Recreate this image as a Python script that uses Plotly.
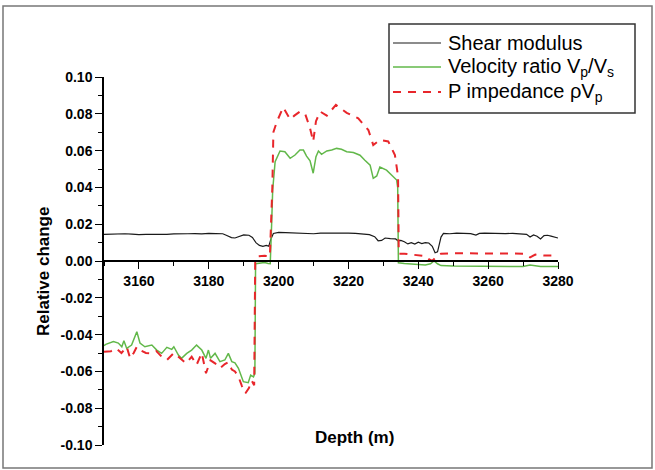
import plotly.graph_objects as go

# ---------------- data ----------------
shear_depth = [3150, 3152, 3154, 3156, 3158, 3160, 3162, 3164, 3166, 3168, 3170, 3172, 3174, 3176,
               3178, 3180, 3182, 3184, 3185, 3186.5, 3187.5, 3188.5, 3190, 3191.5, 3192.5, 3193.5,
               3194.5, 3195.5, 3196.5, 3197.2, 3197.8, 3198.5, 3200, 3202, 3204, 3206, 3208, 3210,
               3212, 3214, 3216, 3218, 3220, 3222, 3224, 3226, 3227.5, 3228.5, 3229.5, 3230.5, 3232,
               3233.5, 3234.2, 3235, 3236, 3237, 3238, 3239, 3240, 3241, 3242, 3243, 3244, 3244.8,
               3245.5, 3246.5, 3247.2, 3249, 3251, 3253, 3255, 3256.5, 3257.5, 3259, 3261, 3263,
               3265, 3267, 3269, 3271, 3272, 3273, 3274, 3275, 3276, 3277, 3278, 3279, 3280]
shear_modulus = [0.0145, 0.0147, 0.0145, 0.0148, 0.0146, 0.0143, 0.0145, 0.0144, 0.0146, 0.0145,
                 0.0147, 0.0146, 0.0148, 0.0149, 0.0147, 0.0150, 0.0149, 0.0148, 0.0140, 0.0127,
                 0.0125, 0.0132, 0.0142, 0.0140, 0.0128, 0.0100, 0.0085, 0.0080, 0.0085, 0.0080,
                 0.0120, 0.0150, 0.0156, 0.0154, 0.0152, 0.0153, 0.0151, 0.0148, 0.0152, 0.0153,
                 0.0153, 0.0152, 0.0152, 0.0150, 0.0148, 0.0143, 0.0132, 0.0110, 0.0112, 0.0125,
                 0.0122, 0.0120, 0.0110, 0.0112, 0.0105, 0.0093, 0.0100, 0.0092, 0.0102, 0.0095,
                 0.0100, 0.0098, 0.0080, 0.0045, 0.0050, 0.0130, 0.0150, 0.0148, 0.0152, 0.0150,
                 0.0149, 0.0141, 0.0150, 0.0152, 0.0150, 0.0152, 0.0149, 0.0150, 0.0148, 0.0145,
                 0.0130, 0.0142, 0.0135, 0.0120, 0.0138, 0.0140, 0.0135, 0.0130, 0.0125]

vel_depth = [3150, 3150.5, 3152.7, 3154.1, 3155.1, 3155.7, 3156.5, 3157.9, 3159.4, 3160.3, 3161.7,
             3163.7, 3165.1, 3166.5, 3168, 3169.4, 3170, 3171.3, 3172.2, 3173.7, 3175.1, 3176.5,
             3178, 3179.2, 3179.9, 3180.5, 3181.8, 3183.2, 3184.6, 3185.6, 3186.6, 3187.5, 3188.5,
             3189.9, 3191.3, 3192.0, 3192.8, 3193.2, 3193.4, 3195, 3196, 3197, 3197.6, 3198.0,
             3198.3, 3199.0, 3200.4, 3201.8, 3203.3, 3204.7, 3206.1, 3207.1, 3208, 3209, 3209.9,
             3210.7, 3211.4, 3212.3, 3213.8, 3215.2, 3216.6, 3218, 3219.5, 3221.4, 3223.3, 3224.7,
             3226.2, 3227.1, 3228.1, 3229, 3230, 3230.9, 3232.4, 3233.8, 3234.1, 3234.3, 3236,
             3238, 3240, 3242, 3243.5, 3244.5, 3245.5, 3246.5, 3250, 3255, 3260, 3265, 3270,
             3272, 3273.5, 3275, 3280]
velocity_ratio = [-0.0460, -0.0453, -0.0438, -0.0446, -0.0466, -0.0433, -0.0475, -0.0457, -0.0384,
                  -0.0446, -0.0466, -0.0457, -0.0484, -0.0502, -0.0469, -0.0480, -0.0466, -0.0511,
                  -0.0529, -0.0502, -0.0484, -0.0457, -0.0484, -0.0529, -0.0484, -0.0529, -0.0502,
                  -0.0547, -0.0538, -0.0502, -0.0547, -0.0553, -0.0583, -0.0656, -0.0661, -0.0620,
                  -0.0630, -0.0610, -0.0015, -0.0012, -0.0008, -0.0014, -0.0015, 0.0200, 0.0386,
                  0.0540, 0.0598, 0.0594, 0.0558, 0.0576, 0.0603, 0.0603, 0.0570, 0.0544, 0.0477,
                  0.0567, 0.0598, 0.0580, 0.0598, 0.0603, 0.0612, 0.0607, 0.0594, 0.0590, 0.0575,
                  0.0548, 0.0521, 0.0449, 0.0462, 0.0511, 0.0502, 0.0494, 0.0466, 0.0440, 0.0400,
                  -0.0010, -0.0014, -0.0016, -0.0020, -0.0022, -0.0015, 0.0000, -0.0015, -0.0025,
                  -0.0027, -0.0028, -0.0028, -0.0029, -0.0030, -0.0022, -0.0026, -0.0030, -0.0030]

imp_depth = [3150, 3152, 3153.5, 3155, 3156.5, 3157.5, 3158.5, 3159.4, 3160.3, 3162, 3163.7, 3165,
             3166.5, 3168, 3170, 3172, 3173.5, 3175.1, 3176.5, 3178, 3179.2, 3180.5, 3181.8, 3183.2,
             3184.6, 3185.6, 3186.6, 3187.5, 3188.5, 3189.5, 3190.5, 3191.5, 3192.3, 3193.0, 3193.3,
             3194, 3196, 3197.5, 3198.2, 3198.5, 3199.5, 3201.3, 3203.3, 3204.5, 3206.1, 3207.6,
             3209, 3209.9, 3210.7, 3211.9, 3213.8, 3216.4, 3219.5, 3222.8, 3225.7, 3227.1, 3229,
             3231.4, 3233.3, 3234.2, 3234.4, 3236, 3238, 3240, 3242, 3243, 3244, 3245, 3246.5,
             3250, 3255, 3260, 3265, 3270, 3272, 3273.5, 3276, 3280]
p_impedance = [-0.0493, -0.0490, -0.0475, -0.0500, -0.0466, -0.0529, -0.0500, -0.0466, -0.0484,
               -0.0500, -0.0502, -0.0490, -0.0520, -0.0538, -0.0500, -0.0530, -0.0556, -0.0520,
               -0.0565, -0.0500, -0.0610, -0.0540, -0.0556, -0.0583, -0.0560, -0.0550, -0.0590,
               -0.0600, -0.0629, -0.0680, -0.0719, -0.0690, -0.0650, -0.0675, 0.0000, 0.0025,
               0.0028, 0.0025, 0.0400, 0.0700, 0.0757, 0.0835, 0.0770, 0.0790, 0.0812, 0.0800,
               0.0721, 0.0649, 0.0760, 0.0812, 0.0790, 0.0848, 0.0805, 0.0775, 0.0712, 0.0630,
               0.0658, 0.0650, 0.0576, 0.0460, 0.0040, 0.0040, 0.0035, 0.0028, 0.0026, 0.0010,
               0.0000, 0.0020, 0.0040, 0.0042, 0.0042, 0.0041, 0.0040, 0.0040, 0.0020, 0.0035,
               0.0030, 0.0030]

y_tick_vals = [-0.10, -0.08, -0.06, -0.04, -0.02, 0.00, 0.02, 0.04, 0.06, 0.08, 0.10]
y_tick_text = ["-0.10", "-0.08", "-0.06", "-0.04", "-0.02", "0.00", "0.02", "0.04", "0.06", "0.08", "0.10"]
x_tick_vals = [3160, 3180, 3200, 3220, 3240, 3260, 3280]

names = ["Shear modulus", "Velocity ratio V<sub>p</sub>/V<sub>s</sub>", "P impedance \u03c1V<sub>p</sub>"]
colors = ["#1a1a1a", "#62b84a", "#e8262b"]
widths = [1.2, 1.5, 2]
dashes = ["solid", "solid", "8px,7px"]

# ---------------- layout geometry (pixels) ----------------
W, H = 655, 470
L, R, T, B = 104, 97, 77, 25
PW, PH = W - L - R, H - T - B


def px(x):
    return (x - L) / PW


def py(y):
    return (H - B - y) / PH


FONT = "Liberation Sans, Arial, sans-serif"

fig = go.Figure()
series = [(shear_depth, shear_modulus), (vel_depth, velocity_ratio), (imp_depth, p_impedance)]
for (xs, ys), nm, c, w, d in zip(series, names, colors, widths, dashes):
    fig.add_trace(go.Scatter(x=xs, y=ys, mode="lines", name=nm,
                             line=dict(color=c, width=w, dash=d)))

# legend drawn as a framed box (line samples + labels)
legend_rows = [43, 67, 92]
shapes = [
    dict(type="rect", xref="paper", yref="paper", x0=px(3), x1=px(652), y0=py(468), y1=py(6),
         line=dict(color="#777", width=1.5), fillcolor="rgba(0,0,0,0)", layer="below"),
    dict(type="rect", xref="paper", yref="paper", x0=px(389), x1=px(635), y0=py(113), y1=py(24),
         line=dict(color="#333", width=1.5), fillcolor="white", layer="above"),
]
annotations = [
    dict(text="Relative change", xref="paper", yref="paper", x=px(43), y=py(272),
         textangle=-90, showarrow=False, xanchor="center", yanchor="middle",
         font=dict(size=17, family=FONT, weight="bold", color="black")),
    dict(text="Depth (m)", xref="paper", yref="paper", x=px(354), y=py(437),
         showarrow=False, xanchor="center", yanchor="middle",
         font=dict(size=17, family=FONT, weight="bold", color="black")),
]
for ry, nm, c, w, d in zip(legend_rows, names, colors, widths, dashes):
    shapes.append(dict(type="line", xref="paper", yref="paper", x0=px(393), x1=px(441),
                       y0=py(ry), y1=py(ry), layer="above",
                       line=dict(color=c, width=w, dash=d)))
    annotations.append(dict(text=nm, xref="paper", yref="paper", x=px(446), y=py(ry),
                            xanchor="left", yanchor="middle", showarrow=False,
                            font=dict(size=20, family=FONT, color="black")))

fig.update_layout(
    width=W, height=H,
    margin=dict(l=L, r=R, t=T, b=B, pad=0),
    paper_bgcolor="white", plot_bgcolor="white",
    font=dict(family=FONT, color="black"),
    showlegend=False,
    xaxis=dict(range=[3150, 3280], anchor="free", position=0.5,
               showline=True, linecolor="black", linewidth=1.5,
               showgrid=False, zeroline=False,
               ticks="outside", ticklen=7, tickwidth=1.2, tickcolor="black",
               tickvals=x_tick_vals,
               tickfont=dict(size=14, family=FONT, weight="bold"),
               minor=dict(dtick=10, tick0=3150, ticks="outside", ticklen=4, tickcolor="black",
                          tickwidth=1, showgrid=False)),
    yaxis=dict(range=[-0.10, 0.10],
               showline=True, linecolor="black", linewidth=1.5,
               showgrid=False, zeroline=False,
               ticks="outside", ticklen=7, tickwidth=1.2, tickcolor="black",
               tickvals=y_tick_vals, ticktext=y_tick_text,
               tickfont=dict(size=14, family=FONT, weight="bold"),
               minor=dict(dtick=0.01, tick0=0, ticks="outside", ticklen=4, tickcolor="black",
                          tickwidth=1, showgrid=False)),
    annotations=annotations,
    shapes=shapes,
)

fig.write_html("out.html", config={"displayModeBar": False},
               post_script="document.body.style.margin='0';document.body.style.padding='0';")
